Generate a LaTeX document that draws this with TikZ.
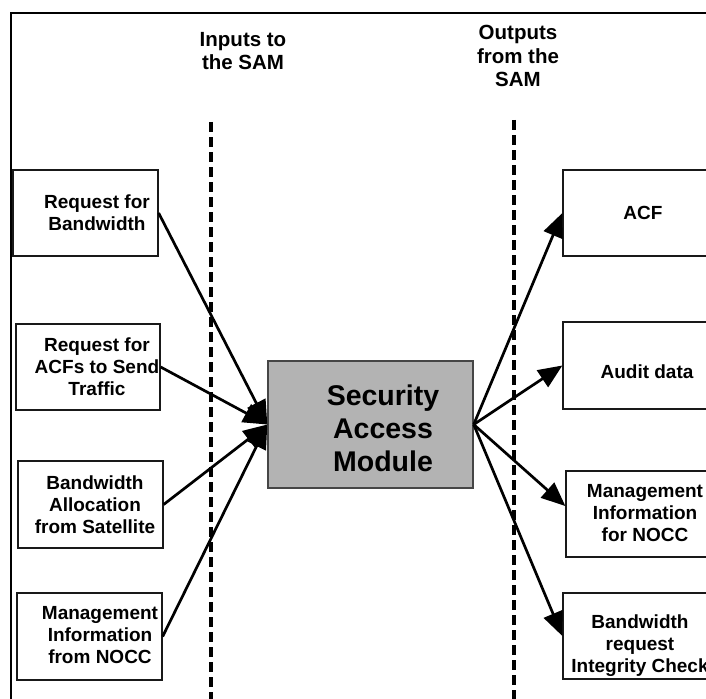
\documentclass[tikz,border=0pt]{standalone}
\usepackage{fontspec}
\setmainfont{Liberation Sans}
\usetikzlibrary{arrows.meta,calc}
\definecolor{samgray}{RGB}{179,179,179}
\definecolor{edgegray}{RGB}{70,70,70}
\begin{document}
\begin{tikzpicture}[x=1pt,y=-1pt,
  box/.style={draw=black!90,line width=1.3pt,fill=white,minimum width=145pt,
    minimum height=86pt,inner sep=0pt},
  boxtxt/.style={font=\fontsize{19}{22}\selectfont\bfseries,align=center,inner sep=0pt},
  samtxt/.style={font=\fontsize{28.5}{33}\selectfont\bfseries,align=center,inner sep=0pt},
  head/.style={font=\fontsize{20.5}{23.5}\selectfont\bfseries,align=center,
    inner sep=0pt,anchor=north},
  flow/.style={line width=2.7pt,-{Triangle[length=24pt,width=20pt]}},
  divider/.style={line width=3.2pt,dash pattern=on 10pt off 5pt}]

% page area
\useasboundingbox (0,0) rectangle (706,698);
\fill[white] (0,0) rectangle (706,698);
\clip (0,0) rectangle (706,698);

% outer frame (runs past the right and bottom edges)
\draw[line width=2.4pt] (11,13) rectangle (740,740);

% column headings
\node[head] (hin)  at (243,32) {Inputs to\\the SAM};
\node[head] (hout) at (518,25) {Outputs\\from the\\SAM};

% dashed dividers
\coordinate (d1a) at (211,122);
\coordinate (d1b) at (211,710);
\coordinate (d2a) at (514,120);
\coordinate (d2b) at (514,710);
\draw[divider] (d1a) -- (d1b);
\draw[divider] (d2a) -- (d2b);

% inputs
\node[box] (l1) at (85.5,213) {};
\node[boxtxt] (l1t) at (97,213) {Request for\\Bandwidth};
\node[box,minimum width=144pt] (l2) at (88,367) {};
\node[boxtxt] (l2t) at (97,367) {Request for\\ACFs to Send\\Traffic};
\node[box,minimum height=87pt] (l3) at (90.5,504.5) {};
\node[boxtxt] (l3t) at (95,504.5) {Bandwidth\\Allocation\\from Satellite};
\node[box,minimum height=87pt] (l4) at (89.5,636.5) {};
\node[boxtxt] (l4t) at (100,635) {Management\\Information\\from NOCC};

% central module
\node[draw=edgegray,line width=1.4pt,fill=samgray,minimum width=205pt,
  minimum height=127pt,inner sep=0pt] (sam) at (370.5,424.5) {};
\node[samtxt] (samt) at (383,428) {Security\\Access\\Module};

% outputs
\node[box] (r1) at (635.5,213) {};
\node[boxtxt] (r1t) at (643,213) {ACF};
\node[box,minimum height=87pt] (r2) at (635.5,365.5) {};
\node[boxtxt] (r2t) at (647,372) {Audit data};
\node[box] (r3) at (638.5,514) {};
\node[boxtxt] (r3t) at (645,513) {Management\\Information\\for NOCC};
\node[box] (r4) at (635.5,636) {};
\node[boxtxt] (r4t) at (640,646) {Bandwidth\\request\\Integrity Check};

% connectors into the module
\draw[flow] (l1.east) -- (sam.west);
\draw[flow] (l2.east) -- (sam.west);
\draw[flow] (l3.east) -- (sam.west);
\draw[flow] (l4.east) -- (sam.west);

% connectors out of the module
\draw[flow] (sam.east) -- (r1.west);
\draw[flow] (sam.east) -- (r2.west);
\draw[flow] (sam.east) -- ($(r3.west)+(0,-8)$);
\draw[flow] (sam.east) -- (r4.west);
\end{tikzpicture}
\end{document}
